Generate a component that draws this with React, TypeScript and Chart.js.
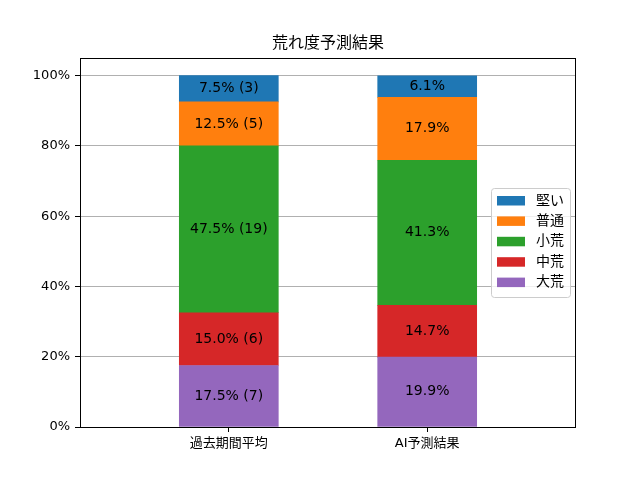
import React, { useEffect, useRef } from 'react';
import { Chart, registerables } from 'chart.js';

Chart.register(...registerables);

// categories (x) and series, stacked bottom-up
const categories = ['過去期間平均', 'AI予測結果'];
const seriesNames = ['大荒', '中荒', '小荒', '普通', '堅い'];
const seriesColors = ['#9467bd', '#d62728', '#2ca02c', '#ff7f0e', '#1f77b4'];

// past period: race counts per class (total 40)
const pastCounts = [7, 6, 19, 5, 3];
const pastPercent = [17.5, 15.0, 47.5, 12.5, 7.5];
// AI prediction percentages
const aiPercent = [19.9, 14.7, 41.3, 17.9, 6.1];

const yTicks = [0, 20, 40, 60, 80, 100];

const FONT = '"DejaVu Sans", "Noto Sans CJK JP", sans-serif';

const labelFor = (seriesIdx: number, catIdx: number): string => {
    if (catIdx === 0) {
        return `${pastPercent[seriesIdx].toFixed(1)}% (${pastCounts[seriesIdx]})`;
    }
    return `${aiPercent[seriesIdx].toFixed(1)}%`;
};

// frame, title, bar labels, legend - drawn matplotlib style
const decorations = {
    id: 'decorations',
    afterDatasetsDraw(chart: any) {
        const ctx = chart.ctx;
        ctx.save();
        ctx.font = `14px ${FONT}`;
        ctx.fillStyle = '#000';
        ctx.textAlign = 'center';
        ctx.textBaseline = 'middle';
        chart.data.datasets.forEach((ds: any, i: number) => {
            const meta = chart.getDatasetMeta(i);
            meta.data.forEach((bar: any, j: number) => {
                const yMid = (bar.y + bar.base) / 2;
                ctx.fillText(labelFor(i, j), bar.x, yMid);
            });
        });
        ctx.restore();
    },
    afterDraw(chart: any) {
        const ctx = chart.ctx;
        const area = chart.chartArea;
        ctx.save();
        // axes frame
        ctx.strokeStyle = '#000';
        ctx.lineWidth = 1;
        ctx.strokeRect(Math.round(area.left) + 0.5, Math.round(area.top) + 0.5,
            Math.round(area.right - area.left) - 1, Math.round(area.bottom - area.top));

        // title
        ctx.fillStyle = '#000';
        ctx.font = `16px ${FONT}`;
        ctx.textAlign = 'center';
        ctx.textBaseline = 'middle';
        ctx.fillText('荒れ度予測結果', (area.left + area.right) / 2, 44);

        // legend (reverse order, top = 堅い)
        const boxL = 491, boxT = 188, boxW = 79, boxH = 109;
        ctx.beginPath();
        ctx.roundRect(boxL + 0.5, boxT + 0.5, boxW, boxH, 3);
        ctx.fillStyle = 'rgba(255,255,255,0.8)';
        ctx.fill();
        ctx.strokeStyle = '#cccccc';
        ctx.stroke();
        ctx.font = `14px ${FONT}`;
        ctx.textAlign = 'left';
        for (let k = 0; k < seriesNames.length; k++) {
            const idx = seriesNames.length - 1 - k;
            const cy = 200.5 + k * 20.4;
            ctx.fillStyle = seriesColors[idx];
            ctx.fillRect(497, cy - 4.5, 28, 9.5);
            ctx.fillStyle = '#000';
            ctx.fillText(seriesNames[idx], 536, cy + 0.5);
        }
        ctx.restore();
    },
};

const App: React.FC = () => {
    const chartRef = useRef<HTMLCanvasElement>(null);
    const chartInstance = useRef<Chart | null>(null);

    useEffect(() => {
        if (!chartRef.current) return;
        if (chartInstance.current) chartInstance.current.destroy();

        const datasets = seriesNames.map((name, i) => ({
            label: name,
            data: [pastPercent[i], aiPercent[i]].map((v, j) => ({ x: j, y: v })),
            backgroundColor: seriesColors[i],
            borderWidth: 0,
            barThickness: 99,
            stack: 'all',
        }));

        chartInstance.current = new Chart(chartRef.current, {
            type: 'bar',
            data: { datasets },
            options: {
                responsive: false,
                animation: false,
                layout: { padding: { top: 58, right: 64, bottom: 0, left: 0 } },
                scales: {
                    x: {
                        type: 'linear',
                        offset: false,
                        min: -0.75,
                        max: 1.75,
                        afterBuildTicks: (scale: any) => {
                            scale.ticks = categories.map((_, i) => ({ value: i }));
                        },
                        afterFit: (scale: any) => {
                            scale.height = 53;
                        },
                        ticks: {
                            autoSkip: false,
                            maxRotation: 0,
                            padding: 4,
                            color: '#000',
                            font: { family: FONT, size: 13 },
                            callback: (v: any) => categories[v] ?? '',
                        },
                        grid: { offset: false, drawOnChartArea: false, drawTicks: true, tickLength: 5, tickColor: '#000' },
                        border: { display: false },
                    },
                    y: {
                        stacked: true,
                        min: 0,
                        max: 105,
                        afterBuildTicks: (scale: any) => {
                            scale.ticks = yTicks.map(v => ({ value: v }));
                        },
                        afterFit: (scale: any) => {
                            scale.width = 80;
                        },
                        ticks: {
                            padding: 5,
                            color: '#000',
                            font: { family: FONT, size: 13 },
                            callback: (v: any) => `${v}%`,
                        },
                        grid: { color: '#b0b0b0', lineWidth: 1, tickLength: 5, tickColor: '#000' },
                        border: { display: false },
                    },
                },
                plugins: {
                    legend: { display: false },
                    title: { display: false },
                    tooltip: { enabled: false },
                },
            },
            plugins: [decorations],
        } as any);

        return () => {
            if (chartInstance.current) {
                chartInstance.current.destroy();
                chartInstance.current = null;
            }
        };
    }, []);

    return (
        <div style={{ position: 'absolute', left: 0, top: 0, width: 640, height: 480, background: '#fff' }}>
            <canvas ref={chartRef} width={640} height={480} style={{ width: 640, height: 480 }}></canvas>
        </div>
    );
};

export default App;
